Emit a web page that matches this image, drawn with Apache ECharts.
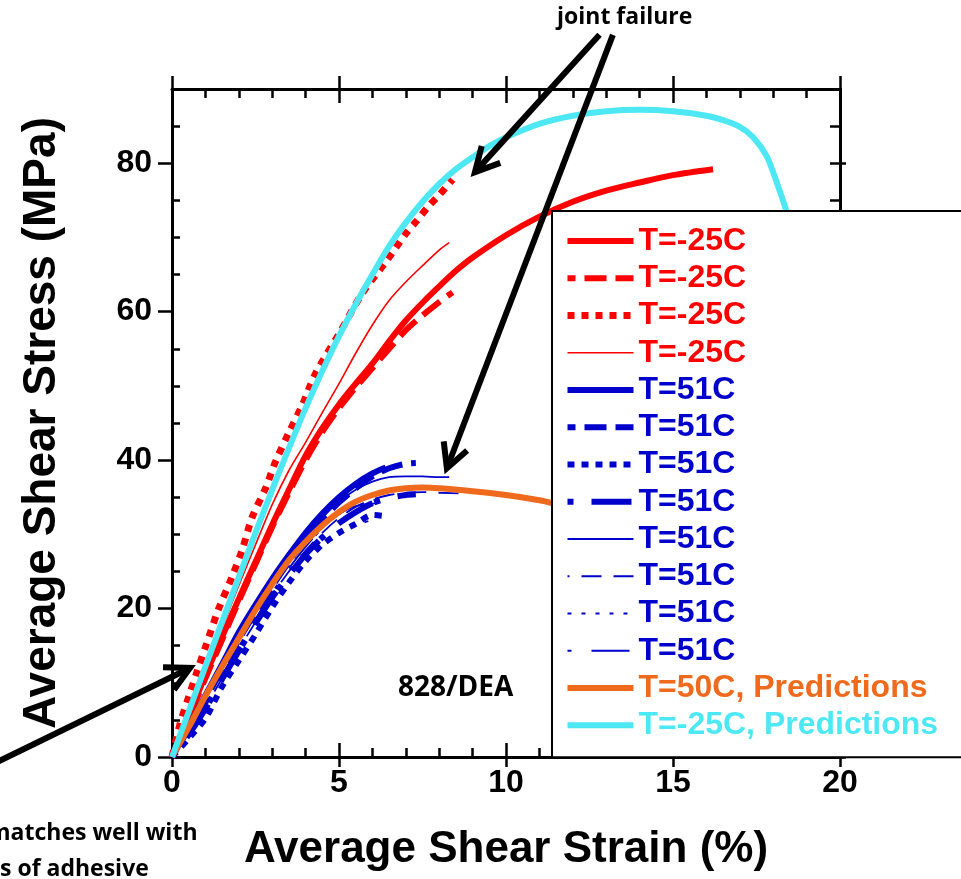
<!DOCTYPE html>
<html><head><meta charset="utf-8">
<script src="https://cdn.jsdelivr.net/npm/echarts@6/dist/echarts.min.js"></script>
<style>html,body{margin:0;padding:0;background:#fff;}#c{width:961px;height:879px;}</style>
</head><body><div id="c"></div>
<script>
// ---------------- data ----------------
const xTickValues = [0, 5, 10, 15, 20];
const yTickValues = [0, 20, 40, 60, 80];
const xLabel = 'Average Shear Strain (%)';
const yLabel = 'Average Shear Stress (MPa)';

const seriesNames = ['T=-25C','T=-25C','T=-25C','T=-25C',
  'T=51C','T=51C','T=51C','T=51C','T=51C','T=51C','T=51C','T=51C',
  'T=50C, Predictions','T=-25C, Predictions'];

const red1 = [[0,0],[0.5,5.5],[1,11],[1.5,16.2],[2,21.3],[2.5,26.3],[3,31.3],[3.5,36],[4,40.6],[4.5,44.3],[5,47.5],[5.5,50.3],[6,53],[6.5,56],[7,58.8],[7.5,61.2],[8,63.4],[8.5,65.5],[9,67.3],[10,70.3],[11,72.8],[12,74.8],[13,76.3],[14,77.4],[15,78.4],[16.2,79.2]];
const red2 = [[0,0],[0.5,5.3],[1,10.6],[1.5,15.8],[2,21],[2.5,26],[3,31],[3.5,35.6],[4,40],[4.5,43.8],[5,47],[5.5,49.8],[6,52.4],[6.5,55],[7,57.5],[7.5,59.5],[8,61.3],[8.4,62.6]];
const red3 = [[0,0],[0.25,4.6],[0.5,8.1],[0.75,11.5],[1,14.8],[1.4,20],[1.8,24.3],[2.1,27.9],[2.4,32.3],[2.8,36.2],[3.1,39.8],[3.5,43.7],[3.9,47.4],[4.3,51.7],[5,57],[5.7,62.5],[6.4,66.7],[7,70.5],[7.3,72.1],[7.7,74.3],[8,75.7],[8.4,77.8]];
const red4 = [[0,0],[0.5,5.8],[1,11.6],[1.5,17.4],[2,23.1],[2.5,28.6],[3,34],[3.5,38.6],[4,42.4],[4.5,46.4],[5,50.3],[5.5,54.4],[6,58.2],[6.5,61.5],[7,64],[7.5,66.2],[8,68.3],[8.3,69.3]];
const blue1 = [[0,0],[0.5,4],[1,8.3],[1.5,12.5],[2,16.8],[2.5,20.5],[3,24],[3.5,27.2],[4,30.2],[4.5,32.8],[5,35],[5.5,36.8],[6,38.2],[6.4,39]];
const blue2 = [[0,0],[0.5,3.8],[1,7.8],[1.5,11.8],[2,15.8],[2.5,19.5],[3,23],[3.5,26.3],[4,29.3],[4.5,32],[5,34.3],[5.5,36.2],[6,37.8],[6.5,38.9],[7,39.5],[7.3,39.6]];
const blue3 = [[0,0],[0.5,2.5],[1,5.2],[1.5,9.5],[2,13],[2.5,16.5],[3,20.2],[3.5,23.5],[4,26.4],[4.5,28.6],[5,30.2],[5.5,31.4],[6,32.6],[6.3,32.5]];
const blue4 = [[0,0],[0.5,3],[1,6.5],[1.5,10.5],[2,14.3],[2.5,18],[3,21.5],[3.5,24.5],[4,27.3],[4.5,29.6],[5,31.5],[5.5,33],[6,34.2],[6.5,34.9],[7,35.3],[7.3,35.4]];
const blue5 = [[0,0],[0.5,4],[1,8],[1.5,12],[2,16],[2.5,19.8],[3,23.3],[3.5,26.5],[4,29.5],[4.5,32.2],[5,34.4],[5.5,36],[6,37.1],[6.5,37.7],[7,37.8],[7.5,37.8],[8,37.7],[8.3,37.7]];
const blue6 = [[0,0],[0.5,3.3],[1,6.8],[1.5,10.6],[2,14.5],[2.5,18.2],[3,21.8],[3.5,25],[4,27.8],[4.5,30.2],[5,32.2],[5.5,33.7],[6,34.7],[6.5,35.3],[7,35.6],[7.5,35.7],[8,35.6],[8.8,35.5]];
const blue7 = [[0,0],[0.5,2.8],[1,5.8],[1.5,9.2],[2,12.8],[2.5,16.4],[3,20],[3.5,23.2],[4,26],[4.5,28.3],[5,30],[5.5,31.2],[5.9,31.8]];
const blue8 = [[0,0],[0.5,3.5],[1,7.2],[1.5,11],[2,14.8],[2.5,18.6],[3,22.2],[3.5,25.4],[4,28.3],[4.5,30.8],[5,32.7],[5.5,33.8],[6.2,34.2]];
const predict50 = [[0,0],[0.5,4],[1,8.2],[1.5,12.2],[2,16],[2.5,19.8],[3,23.3],[3.5,26.5],[4,29],[4.5,31.2],[5,33],[5.5,34.4],[6,35.3],[6.5,35.9],[7,36.2],[7.5,36.3],[8,36.2],[9,35.8],[10,35.3],[11,34.6],[11.5,34.1]];
const predictM25 = [[0,0],[0.5,6.1],[1,12.2],[1.5,18.2],[2,24.2],[2.5,30.2],[3,36],[3.5,41.6],[4,47],[4.5,52],[5,56.7],[5.5,61],[6,65],[6.5,68.8],[7,72],[7.5,74.8],[8,77.2],[8.5,79.2],[9,80.8],[9.5,82.3],[10,83.5],[11,85.3],[12,86.4],[13,87],[14,87.2],[15,87],[16,86.4],[16.5,85.8],[17,84.9],[17.4,83.5],[17.8,81],[18.1,77.5],[18.4,73.5],[18.7,69],[19,64]];

const seriesData = [red1, red2, red3, red4, blue1, blue2, blue3, blue4, blue5, blue6, blue7, blue8, predict50, predictM25];

// annotation anchors (data coordinates)
const annotationTexts = ['joint failure', '828/DEA', 'matches well with', 's of adhesive'];
const arrowTails = [[12.8, 97.3], [13.2, 97.3], [-5.75, -1.8]];
const arrowTips  = [[9.07, 78.8], [8.23, 38.9], [0.54, 12.0]];

// ---------------- styles ----------------
const RED = '#ff0000', BLUE = '#0000cc', ORANGE = '#ef6a1c', CYAN = '#4ee8f4';
const styles = [
  {c: RED, w: 6, t: 'solid'},
  {c: RED, w: 6, t: [22, 9], o: 14},
  {c: RED, w: 7, t: [7, 7]},
  {c: RED, w: 1.6, t: 'solid'},
  {c: BLUE, w: 6, t: 'solid'},
  {c: BLUE, w: 6, t: [22, 9], o: 14},
  {c: BLUE, w: 6, t: [7, 7]},
  {c: BLUE, w: 6, t: [6, 18, 40, 2]},
  {c: BLUE, w: 1.8, t: 'solid'},
  {c: BLUE, w: 1.8, t: [20, 12], o: 18},
  {c: BLUE, w: 1.8, t: [4, 10]},
  {c: BLUE, w: 1.8, t: [4, 20, 38, 4]},
  {c: ORANGE, w: 6, t: 'solid'},
  {c: CYAN, w: 6, t: 'solid'}
];

const FONT = 'Liberation Sans';
const series = seriesData.map((d, i) => ({
  type: 'line',
  name: seriesNames[i] + '#' + i,
  data: d,
  xAxisIndex: 0, yAxisIndex: 0,
  symbol: 'none', showSymbol: false,
  smooth: 0.3,
  animation: false,
  lineStyle: {color: styles[i].c, width: styles[i].w, type: styles[i].t, dashOffset: styles[i].o || 0, cap: 'butt'},
  itemStyle: {color: styles[i].c},
  z: 2 + i * 0.01
}));

const hidden = {axisLine: {show: false, onZero: false}, axisTick: {show: false}, axisLabel: {show: false}, splitLine: {show: false}, minorTick: {show: false}, minorSplitLine: {show: false}};
const axLine = {show: true, onZero: false, lineStyle: {color: '#000', width: 3}};
const tickStyle = {color: '#000', width: 2.5};
const minorY = [];
for (let v = 5; v < 90; v += 5) if (yTickValues.indexOf(v) < 0) minorY.push(v);
const allY5 = [];
for (let v = 5; v < 90; v += 5) allY5.push(v);

const xCommon = {type: 'value', min: 0, max: 20, interval: 5};
const yCommon = {type: 'value', min: 0, max: 90, interval: 5};

const xAxes = [
  Object.assign({}, xCommon, hidden, {position: 'bottom',
    axisLine: axLine,
    axisTick: {show: true, inside: false, length: 10, lineStyle: tickStyle},
    axisLabel: {show: true, margin: 10, fontFamily: FONT, fontWeight: 'bold', fontSize: 32, color: '#000'},
    name: xLabel, nameLocation: 'middle', nameGap: 71,
    nameTextStyle: {fontFamily: FONT, fontWeight: 'bold', fontSize: 44, color: '#000'}}),
  Object.assign({}, xCommon, hidden, {position: 'bottom',
    axisTick: {show: true, inside: true, length: 14, lineStyle: tickStyle},
    minorTick: {show: true, splitNumber: 5, length: 9, lineStyle: tickStyle}}),
  Object.assign({}, xCommon, hidden, {position: 'top',
    axisLine: axLine,
    axisTick: {show: true, inside: false, length: 13, lineStyle: tickStyle}}),
  Object.assign({}, xCommon, hidden, {position: 'top',
    axisTick: {show: true, inside: true, length: 14, lineStyle: tickStyle},
    minorTick: {show: true, splitNumber: 5, length: 9, lineStyle: tickStyle}})
];
const yAxes = [
  Object.assign({}, yCommon, hidden, {position: 'left', interval: 20,
    axisLine: axLine,
    axisTick: {show: true, inside: false, length: 14, lineStyle: tickStyle, customValues: yTickValues},
    axisLabel: {show: true, margin: 20, fontFamily: FONT, fontWeight: 'bold', fontSize: 32, color: '#000', customValues: yTickValues},
    name: yLabel, nameLocation: 'middle', nameGap: 107,
    nameTextStyle: {fontFamily: FONT, fontWeight: 'bold', fontSize: 46, color: '#000'}}),
  Object.assign({}, yCommon, hidden, {position: 'left',
    axisTick: {show: true, inside: true, length: 8, lineStyle: tickStyle, customValues: minorY}}),
  Object.assign({}, yCommon, hidden, {position: 'right', interval: 20,
    axisLine: axLine,
    axisTick: {show: true, inside: false, length: 6, lineStyle: tickStyle, customValues: yTickValues}}),
  Object.assign({}, yCommon, hidden, {position: 'right',
    axisTick: {show: true, inside: true, length: 10, lineStyle: tickStyle, customValues: allY5}})
];

const legendData = seriesNames.map((n, i) => ({
  name: n + '#' + i,
  textStyle: {color: styles[i].c}
}));

const chart = echarts.init(document.getElementById('c'), null, {renderer: 'canvas'});
chart.setOption({
  animation: false,
  backgroundColor: '#fff',
  grid: {left: 172, right: 121, top: 89, bottom: 122, containLabel: false, outerBoundsMode: 'none'},
  xAxis: xAxes,
  yAxis: yAxes,
  legend: {
    left: 552, top: 211, orient: 'vertical',
    data: legendData,
    formatter: n => n.split('#')[0],
    selectedMode: false,
    itemWidth: 66, itemHeight: 14, itemGap: 5.25,
    padding: [14, 60, 16, 12],
    backgroundColor: '#fff', borderColor: '#000', borderWidth: 2,
    lineStyle: {width: 'inherit'},
    itemStyle: {color: 'rgba(0,0,0,0)', borderColor: 'rgba(0,0,0,0)', borderWidth: 0, opacity: 0},
    textStyle: {fontFamily: FONT, fontWeight: 'bold', fontSize: 32, lineHeight: 32},
    z: 10
  },
  series: series
});

function arrowEls(p0, p1) {
  const ang = Math.atan2(p1[1] - p0[1], p1[0] - p0[0]);
  const L = 27, a = Math.PI / 6.5;
  const h1 = [p1[0] - L * Math.cos(ang - a), p1[1] - L * Math.sin(ang - a)];
  const h2 = [p1[0] - L * Math.cos(ang + a), p1[1] - L * Math.sin(ang + a)];
  return [
    {type: 'polyline', shape: {points: [p0, p1]}, style: {stroke: '#000', lineWidth: 6, fill: null}, z: 20},
    {type: 'polyline', shape: {points: [h1, p1, h2]}, style: {stroke: '#000', lineWidth: 6, fill: null, lineJoin: 'miter'}, z: 20}
  ];
}
const graphics = [];
for (let i = 0; i < arrowTails.length; i++) {
  const p0 = chart.convertToPixel({xAxisIndex: 0, yAxisIndex: 0}, arrowTails[i]);
  const p1 = chart.convertToPixel({xAxisIndex: 0, yAxisIndex: 0}, arrowTips[i]);
  graphics.push(...arrowEls(p0, p1));
}
const annFont = 'Open Sans';
graphics.push(
  {type: 'text', left: 557, top: 6, z: 21, style: {text: annotationTexts[0], fontFamily: annFont, fontWeight: 'bold', fontSize: 23, fill: '#000'}},
  {type: 'text', left: 398, top: 674, z: 21, style: {text: annotationTexts[1], fontFamily: annFont, fontWeight: 'bold', fontSize: 28, fill: '#000'}},
  {type: 'text', left: -12, top: 822, z: 21, style: {text: annotationTexts[2], fontFamily: annFont, fontWeight: 'bold', fontSize: 23, fill: '#000'}},
  {type: 'text', left: 0, top: 858, z: 21, style: {text: annotationTexts[3], fontFamily: annFont, fontWeight: 'bold', fontSize: 23, fill: '#000'}}
);
chart.setOption({graphic: graphics});
</script>
</body></html>
